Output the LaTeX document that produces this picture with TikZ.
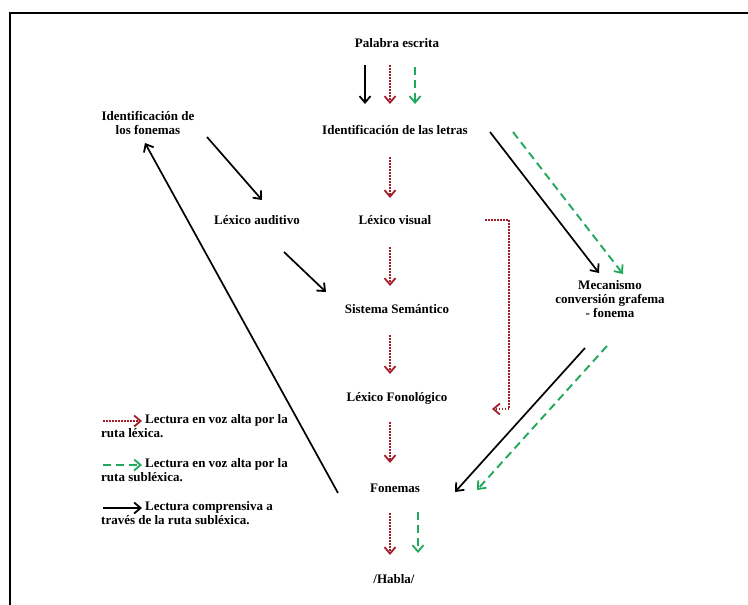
\documentclass[tikz,border=0pt]{standalone}
\usepackage{fontspec}
\setmainfont{Liberation Serif}
\usetikzlibrary{arrows.meta}
\definecolor{lexred}{HTML}{A31E2A}
\definecolor{subgreen}{HTML}{22A85C}
\begin{document}
\begin{tikzpicture}[x=1pt,y=-1pt,
  every node/.style={font=\bfseries\fontsize{13}{14}\selectfont, inner sep=0pt, align=center},
  tipbarb/.style={-{Straight Barb[length=6.5pt,width=11pt,line width=1.8pt]}},
  lexarrow/.style={tipbarb, draw=lexred, line width=1.7pt, dash pattern=on 1.5pt off 1.5pt},
  subarrow/.style={tipbarb, draw=subgreen, line width=1.9pt, dash pattern=on 8pt off 5pt},
  comparrow/.style={tipbarb, draw=black, line width=1.7pt},
  legendtext/.style={anchor=west, align=left}]
  \useasboundingbox (0,0) rectangle (748,605);
  % frame: top and left edges only
  \draw[line width=2pt] (10,605) -- (10,13) -- (748,13);

  % boxes of the model
  \node (pal) at (397,43)  {Palabra escrita};
  \node (idl) at (395,130) {Identificación de las letras};
  \node (idf) at (148,123) {Identificación de\\los fonemas};
  \node (lxa) at (257,220) {Léxico auditivo};
  \node (lxv) at (395,220) {Léxico visual};
  \node (sis) at (397,309) {Sistema Semántico};
  \node (mec) at (610,299) {Mecanismo\\conversión grafema\\- fonema};
  \node (lxf) at (397,398) {Léxico Fonológico};
  \node (fon) at (395,488) {Fonemas};
  \node (hab) at (394,579) {/Habla/};

  % Palabra escrita -> Identificación de las letras
  \draw[comparrow] ([shift={(-32,22)}]pal.center) -- ([shift={(-30,-26)}]idl.center);
  \draw[lexarrow]  ([shift={(-7,22)}]pal.center)  -- ([shift={(-5,-26)}]idl.center);
  \draw[subarrow]  ([shift={(18,24)}]pal.center)  -- ([shift={(20,-26)}]idl.center);

  % lexical route down the middle
  \draw[lexarrow] ([shift={(-5,27)}]idl.center) -- ([shift={(-5,-22)}]lxv.center);
  \draw[lexarrow] ([shift={(-5,27)}]lxv.center) -- ([shift={(-7,-23)}]sis.center);
  \draw[lexarrow] ([shift={(-7,26)}]sis.center) -- ([shift={(-7,-24)}]lxf.center);
  \draw[lexarrow] ([shift={(-7,24)}]lxf.center) -- ([shift={(-5,-25)}]fon.center);
  \draw[lexarrow] ([shift={(-5,25)}]fon.center) -- ([shift={(-4,-24)}]hab.center);
  \draw[subarrow] ([shift={(23,24)}]fon.center) -- ([shift={(24,-26)}]hab.center);

  % Léxico visual -> Léxico Fonológico (bypass)
  \draw[lexarrow] ([shift={(90,0)}]lxv.center) -| ([shift={(112,11)}]lxf.center)
                  -- ([shift={(95,11)}]lxf.center);

  % sublexical route on the right
  \draw[comparrow] ([shift={(95,2)}]idl.center)  -- ([shift={(-11,-26)}]mec.center);
  \draw[subarrow]  ([shift={(118,2)}]idl.center) -- ([shift={(13,-25)}]mec.center);
  \draw[comparrow] ([shift={(-25,49)}]mec.center) -- ([shift={(60,4)}]fon.center);
  \draw[subarrow]  ([shift={(-3,47)}]mec.center)  -- ([shift={(82,2)}]fon.center);

  % comprehension loop on the left
  \draw[comparrow] ([shift={(-57,5)}]fon.center) -- ([shift={(-3,20)}]idf.center);
  \draw[comparrow] ([shift={(59,14)}]idf.center) -- ([shift={(5,-20)}]lxa.center);
  \draw[comparrow] ([shift={(27,32)}]lxa.center) -- ([shift={(-71,-17)}]sis.center);

  % key
  \coordinate (k1a) at (103,421); \coordinate (k1b) at (142,421);
  \coordinate (k2a) at (103,465); \coordinate (k2b) at (142,465);
  \coordinate (k3a) at (103,508); \coordinate (k3b) at (142,508);
  \draw[lexarrow] (k1a) -- (k1b);
  \draw[subarrow, dash pattern=on 8pt off 5pt] (k2a) -- (k2b);
  \draw[comparrow] (k3a) -- (k3b);
  \node[legendtext, anchor=north west] (kt1) at (101,414) {\hspace{44pt}Lectura en voz alta por la\\ruta léxica.};
  \node[legendtext, anchor=north west] (kt2) at (101,458) {\hspace{44pt}Lectura en voz alta por la\\ruta subléxica.};
  \node[legendtext, anchor=north west] (kt3) at (101,501) {\hspace{44pt}Lectura comprensiva a\\través de la ruta subléxica.};
\end{tikzpicture}
\end{document}
